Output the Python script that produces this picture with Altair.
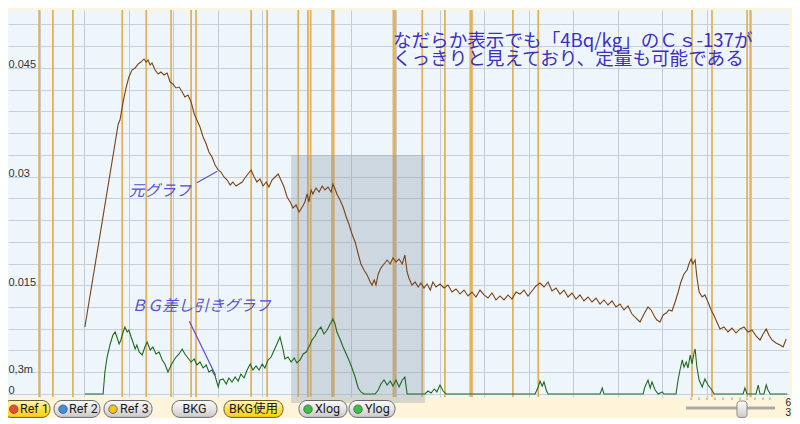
import altair as alt
import pandas as pd

# ---------------- data (energy in keV, value) ----------------
brown_e = [101, 176, 180, 187, 194, 200, 207, 214, 221, 227, 234, 239, 243, 248, 252, 259, 266, 272, 279, 286,
           293, 299, 306, 313, 320, 326, 333, 340, 347, 353, 360, 367, 374, 380, 387, 394, 401, 407, 414, 421,
           428, 434, 441, 448, 455, 461, 468, 475, 482, 488, 495, 502, 509, 515, 522, 529, 536, 542, 549, 556,
           563, 569, 576, 583, 590, 596, 601, 605, 610, 614, 621, 628, 635, 641, 648, 655, 659, 664, 668, 675,
           682, 689, 695, 702, 709, 716, 722, 729, 736, 743, 747, 752, 756, 761, 767, 774, 781, 788, 794, 801,
           808, 815, 821, 826, 830, 837, 844, 851, 857, 864, 871, 878, 884, 891, 900, 909, 918, 927, 936, 945,
           954, 963, 972, 981, 990, 999, 1008, 1017, 1026, 1035, 1044, 1053, 1062, 1071, 1080, 1089, 1098, 1107, 1116, 1125,
           1134, 1143, 1152, 1161, 1170, 1179, 1188, 1197, 1206, 1215, 1224, 1233, 1242, 1251, 1260, 1269, 1278, 1287, 1296, 1305,
           1314, 1323, 1332, 1341, 1350, 1359, 1368, 1375, 1382, 1388, 1395, 1402, 1409, 1415, 1422, 1429, 1436, 1442, 1449, 1456,
           1460, 1465, 1469, 1474, 1478, 1483, 1490, 1496, 1503, 1510, 1517, 1523, 1530, 1539, 1548, 1557, 1566, 1575, 1584, 1593,
           1602, 1611, 1620, 1627, 1634, 1640, 1647, 1656, 1665, 1672, 1679]
brown_v = [0.00924, 0.03724, 0.03779, 0.04028, 0.04234, 0.04372, 0.04469, 0.04497, 0.04552, 0.04579, 0.04621, 0.04579, 0.04607, 0.04538, 0.04566, 0.04469, 0.04414, 0.04441, 0.04400, 0.04428,
           0.04303, 0.04276, 0.04221, 0.04234, 0.04166, 0.04097, 0.04124, 0.04028, 0.03862, 0.03779, 0.03683, 0.03545, 0.03448, 0.03338, 0.03269, 0.03159, 0.03090, 0.03062, 0.02993, 0.02952,
           0.02883, 0.02924, 0.02869, 0.02897, 0.02924, 0.02979, 0.03034, 0.03090, 0.02993, 0.02924, 0.02966, 0.02869, 0.02924, 0.02855, 0.02952, 0.02993, 0.03034, 0.02952, 0.02855, 0.02717,
           0.02648, 0.02566, 0.02607, 0.02510, 0.02579, 0.02648, 0.02759, 0.02648, 0.02814, 0.02759, 0.02841, 0.02786, 0.02869, 0.02814, 0.02855, 0.02786, 0.02897, 0.02828, 0.02759, 0.02676,
           0.02579, 0.02441, 0.02345, 0.02207, 0.02097, 0.01931, 0.01793, 0.01710, 0.01641, 0.01545, 0.01503, 0.01572, 0.01503, 0.01655, 0.01738, 0.01793, 0.01848, 0.01793, 0.01876, 0.01821,
           0.01862, 0.01793, 0.01917, 0.01683, 0.01600, 0.01503, 0.01545, 0.01476, 0.01531, 0.01462, 0.01517, 0.01434, 0.01545, 0.01476, 0.01517, 0.01462, 0.01503, 0.01407, 0.01448, 0.01379,
           0.01434, 0.01352, 0.01407, 0.01338, 0.01434, 0.01366, 0.01324, 0.01393, 0.01297, 0.01352, 0.01297, 0.01366, 0.01310, 0.01407, 0.01379, 0.01434, 0.01352, 0.01421, 0.01490, 0.01531,
           0.01476, 0.01545, 0.01421, 0.01462, 0.01379, 0.01434, 0.01338, 0.01393, 0.01310, 0.01366, 0.01283, 0.01338, 0.01269, 0.01324, 0.01241, 0.01297, 0.01228, 0.01283, 0.01200, 0.01241,
           0.01159, 0.01214, 0.01103, 0.01048, 0.00993, 0.01103, 0.01200, 0.01159, 0.01076, 0.01021, 0.00993, 0.01090, 0.01117, 0.01159, 0.01145, 0.01269, 0.01407, 0.01545, 0.01655, 0.01710,
           0.01793, 0.01862, 0.01793, 0.01848, 0.01614, 0.01407, 0.01338, 0.01366, 0.01269, 0.01159, 0.01076, 0.00993, 0.00897, 0.00924, 0.00855, 0.00910, 0.00841, 0.00897, 0.00924, 0.00855,
           0.00883, 0.00800, 0.00745, 0.00828, 0.00897, 0.00814, 0.00745, 0.00703, 0.00676, 0.00648, 0.00759]

green_e = [101, 142, 146, 151, 158, 164, 169, 173, 178, 182, 187, 191, 196, 200, 205, 209, 214, 218, 223, 230,
           236, 241, 248, 254, 261, 268, 275, 281, 288, 295, 299, 306, 313, 320, 326, 333, 340, 347, 353, 360,
           367, 374, 380, 387, 394, 401, 405, 412, 419, 425, 432, 439, 446, 452, 459, 466, 473, 479, 486, 493,
           500, 506, 513, 520, 527, 533, 540, 547, 551, 558, 565, 572, 578, 585, 592, 599, 605, 612, 619, 626,
           632, 639, 646, 653, 659, 664, 668, 675, 682, 689, 695, 702, 709, 716, 722, 729, 754, 761, 767, 774,
           781, 788, 794, 801, 808, 815, 821, 826, 866, 873, 880, 887, 893, 900, 907, 914, 1114, 1121, 1125, 1130,
           1134, 1139, 1143, 1260, 1265, 1269, 1357, 1361, 1368, 1373, 1377, 1384, 1391, 1400, 1404, 1431, 1436, 1440,
           1445, 1449, 1454, 1458, 1463, 1467, 1472, 1474, 1478, 1483, 1490, 1496, 1503, 1510, 1517, 1582, 1586, 1591,
           1611, 1616, 1620, 1629, 1634, 1638, 1643, 1681]
green_v = [0, 0, 0.00303, 0.00510, 0.00690, 0.00814, 0.00855, 0.00786, 0.00690, 0.00745, 0.00855, 0.00924, 0.00855, 0.00883, 0.00786, 0.00717, 0.00621, 0.00676, 0.00579, 0.00538,
           0.00648, 0.00717, 0.00607, 0.00648, 0.00552, 0.00579, 0.00469, 0.00414, 0.00303, 0.00400, 0.00441, 0.00510, 0.00552, 0.00621, 0.00552, 0.00497, 0.00441, 0.00483, 0.00400, 0.00441,
           0.00359, 0.00400, 0.00303, 0.00331, 0.00248, 0.00097, 0.00193, 0.00207, 0.00138, 0.00221, 0.00166, 0.00234, 0.00179, 0.00276, 0.00221, 0.00331, 0.00414, 0.00331, 0.00386, 0.00331,
           0.00414, 0.00359, 0.00469, 0.00510, 0.00607, 0.00690, 0.00786, 0.00607, 0.00483, 0.00510, 0.00441, 0.00497, 0.00428, 0.00469, 0.00552, 0.00579, 0.00648, 0.00745, 0.00800, 0.00883,
           0.00924, 0.00828, 0.00883, 0.00966, 0.01034, 0.00966, 0.00855, 0.00759, 0.00648, 0.00552, 0.00469, 0.00359, 0.00234, 0.00083, 0.00028, 0, 0, 0.00055, 0.00138, 0.00193,
           0.00124, 0.00179, 0.00110, 0.00193, 0.00097, 0.00193, 0.00234, 0, 0, 0.00041, 0.00014, 0.00069, 0.00028, 0.00124, 0.00041, 0, 0, 0.00097, 0.00179, 0.00110,
           0.00166, 0.00055, 0, 0, 0.00083, 0, 0, 0.00097, 0.00193, 0.00083, 0.00166, 0.00055, 0, 0.00028, 0, 0, 0.00207, 0.00331,
           0.00469, 0.00372, 0.00441, 0.00359, 0.00538, 0.00414, 0.00579, 0.00621, 0.00372, 0.00193, 0.00097, 0.00207, 0.00124, 0.00069, 0, 0, 0.00083, 0,
           0, 0.00124, 0, 0, 0.00124, 0.00055, 0, 0]

peaks_thin = [-2, 29, 74, 185, 239, 295, 340, 351, 475, 511, 581, 603, 609, 860, 911, 1064, 1121, 1467, 1512, 1591, 1598]
peaks_strong = [659, 797, 970]

roi_e = [565, 866]
roi_v = [0.03297, -0.00124]

x_grid = [0, 100, 200, 300, 400, 500, 600, 700, 800, 900, 1000, 1100, 1200, 1300, 1400, 1500, 1600]
y_ticks = [0, 0.003, 0.006, 0.009, 0.012, 0.015, 0.018, 0.021, 0.024, 0.027, 0.03, 0.033,
           0.036, 0.039, 0.042, 0.045, 0.048, 0.051]
y_label_values = [0.045, 0.03, 0.015, 0.003, 0]
y_label_texts = ["0.045", "0.03", "0.015", "0,3m", "0"]

title_lines = ["なだらか表示でも「4Bq/kg」のＣｓ-137が", "くっきりと見えており、定量も可能である"]
title_e = 794
title_v = 0.04793

note_texts = ["元グラフ", "ＢＧ差し引きグラフ"]
note_e = [270, 362]
note_v = [0.02800, 0.01207]
pointer_e = [353, 336]
pointer_e2 = [399, 395]
pointer_v = [0.02914, 0.01003]
pointer_v2 = [0.03072, 0.00258]

btn_labels = ["Ref 1", "Ref 2", "Ref 3", "BKG", "BKG使用", "Xlog", "Ylog"]
btn_lit = [True, False, False, False, True, False, False]
btn_icon = ["#f04a2a", "#3a8ee8", "#f5c518", "", "", "#3cc040", "#3cc040"]
edge_texts = ["6", "3"]

# ---------------- layout of the UI strip (pixels) ----------------
btn_x0 = [3, 54, 104, 172, 224, 299, 349]
btn_x1 = [50, 100, 152, 217, 283, 347, 395]
btn_icon_x = [13.8, 63, 113, 0, 0, 308, 358]
btn_text_x = [20, 69, 120, 194.5, 253.5, 315, 365]
slider_ticks = [691, 699, 707, 715, 723, 732, 740, 747, 755, 763, 770]

# ---------------- top plot ----------------
xs = alt.Scale(domain=[-72, 1685.25], nice=False, zero=False)
ys = alt.Scale(domain=[-0.000414, 0.052966], nice=False, zero=False)

label_expr = " : ".join(f"datum.value == {k} ? '{t}'" for k, t in zip(y_label_values, y_label_texts)) + " : ''"

xaxis = alt.Axis(values=x_grid, grid=True, gridColor="#c3cbd3", labels=False, ticks=False,
                 domain=False, title=None)
yaxis = alt.Axis(values=y_ticks, grid=True, gridColor="#c6d0d8", ticks=False, tickSize=0,
                 domain=False, labelExpr=label_expr, labelAlign="left", labelBaseline="alphabetic",
                 labelPadding=0, labelFont="Liberation Sans", labelFontSize=11, labelColor="#333333",
                 labelOverlap=False, minExtent=0, title=None)


def X(f="e"):
    return alt.X(f"{f}:Q", scale=xs, axis=xaxis)


def Y(f="v"):
    return alt.Y(f"{f}:Q", scale=ys, axis=yaxis)


brown_df = pd.DataFrame({"e": brown_e, "v": brown_v})
green_df = pd.DataFrame({"e": green_e, "v": green_v})
thin_df = pd.DataFrame({"e": peaks_thin})
strong_df = pd.DataFrame({"e": peaks_strong})
roi_df = pd.DataFrame({"e": [roi_e[0]], "e2": [roi_e[1]], "v": [roi_v[0]], "v2": [roi_v[1]]})
title_df = pd.DataFrame({"e": [title_e], "v": [title_v], "t": ["\n".join(title_lines)]})
note_df = pd.DataFrame({"e": note_e, "v": note_v, "t": note_texts})
ptr_df = pd.DataFrame({"e": pointer_e, "e2": pointer_e2, "v": pointer_v, "v2": pointer_v2})

peak_color = "#e3ab4a"
thin = alt.Chart(thin_df).mark_rule(color=peak_color, strokeWidth=1.8, opacity=0.9).encode(x=X())
strong = alt.Chart(strong_df).mark_rule(color=peak_color, strokeWidth=3.4, opacity=0.9).encode(x=X())
roi = alt.Chart(roi_df).mark_rect(fill="#8a96a6", opacity=0.32).encode(
    x=X(), x2="e2", y=Y(), y2="v2")
ptr = alt.Chart(ptr_df).mark_rule(color="#5a4fd4", strokeWidth=1.2).encode(
    x=X(), x2="e2", y=Y(), y2="v2")
brown = alt.Chart(brown_df).mark_line(color="#7b4213", strokeWidth=1.1).encode(x=X(), y=Y())
green = alt.Chart(green_df).mark_line(color="#1f6a1f", strokeWidth=1.1).encode(x=X(), y=Y())
notes = alt.Chart(note_df).mark_text(font="Noto Sans CJK JP", fontSize=15.5, fontStyle="italic",
                                     color="#5a4fd4", align="center", baseline="middle").encode(
    x=X(), y=Y(), text="t:N")
titles = alt.Chart(title_df).mark_text(font="Noto Sans CJK JP", fontSize=18.6, color="#3d2fc2",
                                       align="left", baseline="alphabetic", lineBreak="\n",
                                       lineHeight=18.5).encode(
    x=X(), y=Y(), text="t:N")

top = alt.layer(thin, strong, roi, ptr, brown, green, notes, titles).properties(
    width=781, height=387, view=alt.ViewBackground(fill="#eef6fc", strokeWidth=0))

# ---------------- bottom button strip ----------------
sx = alt.Scale(domain=[8, 792], nice=False, zero=False)
sy = alt.Scale(domain=[0, 21], reverse=True, nice=False, zero=False)

btn_df = pd.DataFrame({"x0": btn_x0, "x1": btn_x1, "lit": btn_lit, "label": btn_labels,
                       "ix": btn_icon_x, "ic": btn_icon, "tx": btn_text_x})
btn_df["y0"] = 3.5
btn_df["y1"] = 20.4
btn_df["ym"] = 12.2

yellow_grad = alt.Gradient(gradient="linear",
                           stops=[alt.GradientStop(color="#fff7b8", offset=0),
                                  alt.GradientStop(color="#ffe14a", offset=0.5),
                                  alt.GradientStop(color="#ffcf10", offset=1)],
                           x1=0, x2=0, y1=0, y2=1)
gray_grad = alt.Gradient(gradient="linear",
                         stops=[alt.GradientStop(color="#fafafa", offset=0),
                                alt.GradientStop(color="#e4e4e4", offset=0.5),
                                alt.GradientStop(color="#c9c9c9", offset=1)],
                         x1=0, x2=0, y1=0, y2=1)


def SX(f):
    return alt.X(f"{f}:Q", scale=sx, axis=None)


def SY(f):
    return alt.Y(f"{f}:Q", scale=sy, axis=None)


lit_btn = alt.Chart(btn_df[btn_df["lit"]]).mark_rect(
    fill=yellow_grad, stroke="#6b5a2a", strokeWidth=1, cornerRadius=8, clip=True).encode(
    x=SX("x0"), x2="x1", y=SY("y0"), y2="y1")
gray_btn = alt.Chart(btn_df[~btn_df["lit"]]).mark_rect(
    fill=gray_grad, stroke="#6a6a6a", strokeWidth=1, cornerRadius=8, clip=True).encode(
    x=SX("x0"), x2="x1", y=SY("y0"), y2="y1")
icon_df = btn_df[btn_df["ic"] != ""]
icons = alt.Chart(icon_df).mark_point(shape="circle", filled=True, size=72, stroke="#555555",
                                      strokeWidth=0.8, opacity=1, clip=True).encode(
    x=SX("ix"), y=SY("ym"), fill=alt.Fill("ic:N", scale=None))
txt_left = alt.Chart(icon_df).mark_text(align="left", baseline="middle", font="Roboto",
                                        fontSize=12.5, color="#1a1a1a").encode(
    x=SX("tx"), y=SY("ym"), text="label:N")
txt_center = alt.Chart(btn_df[btn_df["ic"] == ""]).mark_text(
    align="center", baseline="middle", font="Roboto, Noto Sans CJK JP", fontSize=12.5,
    color="#1a1a1a").encode(x=SX("tx"), y=SY("ym"), text="label:N")

tick_df = pd.DataFrame({"x": slider_ticks})
tick_df["y0"] = 0.5
tick_df["y1"] = 3.0
ticks = alt.Chart(tick_df).mark_rule(color="#9a9a9a", strokeWidth=1).encode(
    x=SX("x"), y=SY("y0"), y2="y1")
track_df = pd.DataFrame({"x0": [686], "x1": [775], "y": [11.0]})
track = alt.Chart(track_df).mark_rule(color="#a9a9a9", strokeWidth=3).encode(
    x=SX("x0"), x2="x1", y=SY("y"))
thumb_df = pd.DataFrame({"x0": [737], "x1": [747], "y0": [4.0], "y1": [20.4]})
thumb = alt.Chart(thumb_df).mark_rect(fill=gray_grad, stroke="#8a8a8a", strokeWidth=1,
                                      cornerRadius=3).encode(
    x=SX("x0"), x2="x1", y=SY("y0"), y2="y1")
edge_df = pd.DataFrame({"x": [791.0, 791.0], "y": [6.0, 16.0], "t": edge_texts})
edge = alt.Chart(edge_df).mark_text(align="right", baseline="middle", font="Liberation Sans",
                                    fontSize=10, color="#222222").encode(
    x=SX("x"), y=SY("y"), text="t:N")

strip = alt.layer(lit_btn, gray_btn, icons, txt_left, txt_center, ticks, track, thumb, edge).properties(
    width=784, height=21)

chart = alt.vconcat(top, strip, spacing=0, bounds="flush").resolve_scale(
    x="independent", y="independent").properties(
    padding={"left": 0, "top": 0, "right": 0, "bottom": 0}
).configure(background="#fdf4da").configure_view(strokeWidth=0)

chart.save("out.html", embed_options={"renderer": "svg", "actions": False})
